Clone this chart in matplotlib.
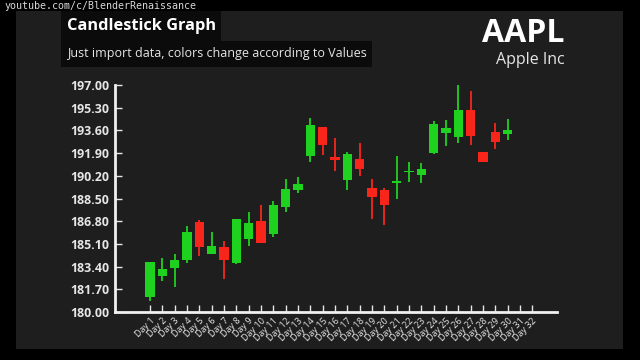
import matplotlib
matplotlib.use("Agg")
import matplotlib.pyplot as plt
import numpy as np
from matplotlib.patches import Rectangle

plt.rcParams['font.family'] = ['Open Sans', 'DejaVu Sans']

days = ['Day %d' % i for i in range(1, 33)]
opens = [181.15, 182.72, 183.32, 183.90, 186.72, 184.34, 184.85, 183.65, 185.47, 186.82,
         185.82, 187.89, 189.12, 191.66, 193.84, 191.61, 189.87, 191.44, 189.27, 189.16,
         189.66, 190.51, 190.24, 191.93, 193.39, 193.13, 195.15, 191.96, 193.46, 193.36,
         np.nan, np.nan]
closes = [183.72, 183.22, 183.90, 185.97, 184.85, 184.97, 183.87, 186.99, 186.64, 185.19,
          188.04, 189.24, 189.56, 194.03, 192.51, 191.36, 191.84, 190.69, 188.59, 188.04,
          189.79, 190.58, 190.71, 194.06, 193.76, 195.15, 193.18, 191.24, 192.76, 193.63,
          np.nan, np.nan]
highs = [183.75, 184.07, 184.32, 186.46, 186.89, 186.01, 185.34, 186.99, 187.51, 188.01,
         188.34, 189.94, 190.09, 194.51, 193.84, 193.01, 192.01, 192.68, 189.96, 189.27,
         191.69, 191.21, 191.18, 194.33, 194.38, 197.05, 196.58, 191.96, 194.13, 194.48,
         np.nan, np.nan]
lows = [180.85, 182.32, 181.90, 183.69, 184.22, 184.34, 182.47, 183.60, 184.94, 185.19,
        185.60, 187.51, 188.89, 191.26, 191.76, 190.58, 189.14, 190.21, 186.94, 186.52,
        188.44, 189.76, 189.64, 191.84, 192.43, 192.64, 192.51, 191.24, 192.21, 192.88,
        np.nan, np.nan]
yticks = [180 + 1.7 * i for i in range(11)]

green = '#1fd21f'
red = '#f8261a'
panel = '#1e1e1e'

fig = plt.figure(figsize=(6.4, 3.6), dpi=100, facecolor='black')
fig.patches.append(Rectangle((16 / 640, 1 - 349 / 360), 607 / 640, 338 / 360,
                             transform=fig.transFigure, facecolor=panel, edgecolor='none', zorder=-5))
# title boxes
fig.patches.append(Rectangle((61 / 640, 1 - 41 / 360), 160 / 640, 30 / 360,
                             transform=fig.transFigure, facecolor='#0b0b0b', edgecolor='none', zorder=-4))
fig.patches.append(Rectangle((61 / 640, 1 - 67 / 360), 311 / 640, 26 / 360,
                             transform=fig.transFigure, facecolor='#0b0b0b', edgecolor='none', zorder=-4))
fig.text(67 / 640, 1 - 26 / 360, 'Candlestick Graph', color='white', fontsize=11.8,
         fontweight='bold', va='center', ha='left')
fig.text(67 / 640, 1 - 54 / 360, 'Just import data, colors change according to Values',
         color='#e6e6e6', fontsize=9.0, va='center', ha='left')
fig.text(565 / 640, 1 - 33 / 360, 'AAPL', color='white', fontsize=23, fontweight='bold',
         va='center', ha='right')
fig.text(565 / 640, 1 - 60 / 360, 'Apple Inc', color='#e6e6e6', fontsize=11.5,
         va='center', ha='right')
fig.text(4 / 640, 1 - 6 / 360, 'youtube.com/c/BlenderRenaissance', color='#d8d8d8',
         fontsize=7.2, family='DejaVu Sans Mono', va='center', ha='left')

ax = fig.add_axes([115 / 640, 1 - 312 / 360, 442 / 640, 227 / 360], zorder=2)
ax.patch.set_alpha(0)

x = np.arange(1, len(days) + 1)
o = np.array(opens)
c = np.array(closes)
cols = [green if cc >= oo else red for oo, cc in zip(o, c)]
ax.vlines(x, lows, highs, colors=cols, linewidth=1.3, zorder=2)
ax.bar(x, np.abs(c - o), bottom=np.minimum(o, c), width=0.75, color=cols, zorder=3)

ax.set_xlim(-1.83, 34)
ax.set_ylim(180, 197)
ax.set_yticks(yticks)
ax.set_yticklabels(['%.2f' % v for v in yticks], color='white', fontsize=8.9, fontweight='bold')
ax.set_xticks(x)
ax.set_xticklabels(days, rotation=45, ha='right', rotation_mode='anchor', color='#e6e6e6', fontsize=6.5)
ax.tick_params(axis='both', direction='in', colors='#e6e6e6', length=5, width=1)
ax.tick_params(axis='y', pad=4)
ax.tick_params(axis='x', pad=3)
for s in ['top', 'right']:
    ax.spines[s].set_visible(False)
for s in ['left', 'bottom']:
    ax.spines[s].set_color('#f0f0f0')
    ax.spines[s].set_linewidth(2)

fig.savefig('out.png', dpi=100, facecolor='black')
